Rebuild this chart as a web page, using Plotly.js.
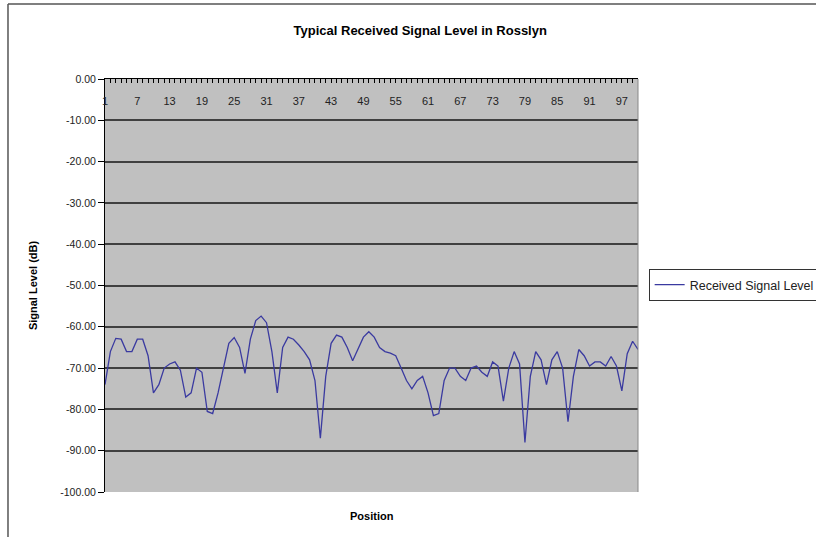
<!DOCTYPE html>
<html>
<head>
<meta charset="utf-8">
<script src="https://cdn.plot.ly/plotly-3.0.1.min.js"></script>
<style>html,body{margin:0;padding:0;background:#fff;}#chart{width:816px;height:537px;}</style>
</head>
<body>
<div id="chart"></div>
<script>
const seriesName = 'Received Signal Level';
const signalLevel = [
  -74, -66, -62.8, -63, -66, -66, -63, -63, -67, -76,
  -74, -70, -69, -68.5, -70.5, -77, -76, -70, -71, -80.5,
  -81, -76, -70, -64, -62.6, -65, -71.3, -63, -58.5, -57.4,
  -59, -66, -76, -65, -62.5, -63, -64.4, -66, -68, -73,
  -87, -72, -64, -62, -62.5, -65, -68.2, -65.5, -62.5, -61.2,
  -62.5, -65, -66, -66.4, -67, -70, -73, -75, -73, -72,
  -76, -81.5, -81, -73, -70, -70, -72, -73, -70, -69.5,
  -71, -72, -68.5, -69.5, -78, -70, -66, -69, -88, -72,
  -66, -68, -74, -68, -66, -70, -83, -72, -65.5, -67,
  -69.5, -68.5, -68.5, -69.5, -67.2, -69.5, -75.5, -66.5, -63.5, -65.5
];
const positions = signalLevel.map((v, i) => i + 1);
const xTickVals = [1, 7, 13, 19, 25, 31, 37, 43, 49, 55, 61, 67, 73, 79, 85, 91, 97];
const xTickText = xTickVals.map(String);
const yTickVals = [0, -10, -20, -30, -40, -50, -60, -70, -80, -90, -100];
const yTickText = ['0.00', '-10.00', '-20.00', '-30.00', '-40.00', '-50.00', '-60.00', '-70.00', '-80.00', '-90.00', '-100.00'];

const trace = {
  x: positions,
  y: signalLevel,
  type: 'scatter',
  mode: 'lines',
  name: seriesName,
  line: {color: '#3a3aa0', width: 1.3},
  showlegend: true
};

const layout = {
  width: 816, height: 537,
  margin: {l: 105, r: 178, t: 79, b: 45, autoexpand: false},
  paper_bgcolor: '#ffffff',
  plot_bgcolor: '#c0c0c0',
  font: {family: 'Liberation Sans, Arial, sans-serif', size: 10, color: '#000'},
  title: {
    text: '<b>Typical Received Signal Level in Rosslyn</b>',
    font: {size: 13, color: '#000'},
    xref: 'container', x: 0.515, xanchor: 'center',
    yref: 'container', y: 0.943, yanchor: 'middle'
  },
  xaxis: {
    range: [1, 100],
    side: 'top',
    automargin: false,
    tickmode: 'array', tickvals: xTickVals, ticktext: xTickText,
    ticks: 'inside', ticklen: 4, tickcolor: '#000',
    ticklabelposition: 'inside',
    ticklabeloverflow: 'allow',
    ticklabelstandoff: 14,
    showgrid: false, zeroline: false,
    showline: true, linecolor: '#000', linewidth: 1,
    tickfont: {size: 11, color: '#222'},
    minor: {tickmode: 'linear', tick0: 1, dtick: 1, ticks: 'inside', ticklen: 4, tickcolor: '#000', showgrid: false}
  },
  yaxis: {
    range: [-100, 0],
    automargin: false,
    tickmode: 'array', tickvals: yTickVals, ticktext: yTickText,
    ticks: 'outside', ticklen: 6, tickcolor: '#000',
    showgrid: true, gridcolor: '#404040', gridwidth: 2,
    zeroline: false,
    showline: true, linecolor: '#000', linewidth: 1,
    tickfont: {size: 10.5, color: '#222'},
    title: {text: '<b>Signal Level (dB)</b>', font: {size: 11}, standoff: 20}
  },
  annotations: [
    {
      text: '<b>Position</b>', xref: 'paper', yref: 'paper',
      x: 0.5, y: -0.057, xanchor: 'center', yanchor: 'middle',
      showarrow: false, font: {size: 11, color: '#000'}
    }
  ],
  legend: {
    x: 1.02, y: 0.501, xanchor: 'left', yanchor: 'middle',
    bgcolor: '#ffffff', bordercolor: '#333', borderwidth: 1,
    font: {size: 12.5, color: '#222'},
    itemwidth: 30
  },
  shapes: [
    {type: 'line', xref: 'paper', yref: 'paper',
     x0: -0.182, x1: 1.4, y0: 1.1816, y1: 1.1816,
     line: {color: '#555', width: 1.5}},
    {type: 'line', xref: 'paper', yref: 'paper',
     x0: -0.182, x1: -0.182, y0: -0.2, y1: 1.1816,
     line: {color: '#555', width: 1.5}},
    {type: 'line', xref: 'paper', yref: 'paper', x0: 1, x1: 1, y0: 0, y1: 1,
     line: {color: '#888', width: 1}}
  ]
};

Plotly.newPlot('chart', [trace], layout, {displayModeBar: false, staticPlot: true});
</script>
</body>
</html>
